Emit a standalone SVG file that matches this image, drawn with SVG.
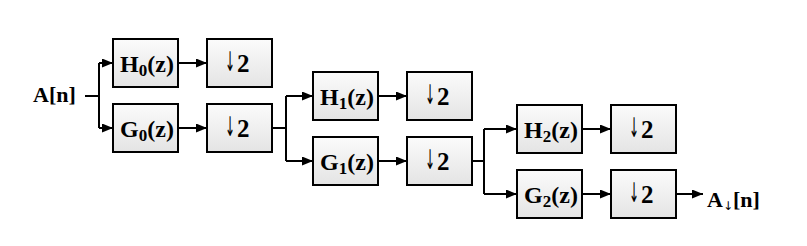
<svg xmlns="http://www.w3.org/2000/svg" width="807" height="246" viewBox="0 0 807 246">
<defs>
<linearGradient id="bg" x1="0" y1="0" x2="0" y2="1">
<stop offset="0" stop-color="#fbfbfb"/>
<stop offset="1" stop-color="#e4e4e4"/>
</linearGradient>
<marker id="ah" markerUnits="userSpaceOnUse" markerWidth="11" markerHeight="9" refX="11" refY="4.5" orient="auto">
<path d="M0,0 L11,4.5 L0,9 z" fill="#000"/>
</marker>
<style>
.box{fill:url(#bg);stroke:#000;stroke-width:2}
.t{font-family:"Liberation Serif","Times New Roman",serif;font-weight:bold;font-size:24px;fill:#000;text-anchor:middle}
.two{font-family:"Liberation Serif","Times New Roman",serif;font-weight:bold;font-size:25px;fill:#000}
.arr{font-family:"DejaVu Sans",sans-serif;font-weight:normal;font-size:27px;fill:#000}
.lbl{font-family:"Liberation Serif","Times New Roman",serif;font-weight:bold;font-size:22px;fill:#000}
.sub{font-size:17px}
.sarr{font-family:"DejaVu Sans",sans-serif;font-weight:normal;font-size:12px}
.c{fill:none;stroke:#000;stroke-width:2}
.a{marker-end:url(#ah)}
</style>
</defs>
<rect width="807" height="246" fill="#fff"/>
<g id="connectors">
<path class="c" d="M85,96 H99 M99,63 V128 M272,128 H286 M286,96 V161 M472,161 H484 M484,129 V194"/>
<path class="c a" d="M99,63 H113"/>
<path class="c a" d="M99,128 H113"/>
<path class="c a" d="M178,63 H207"/>
<path class="c a" d="M178,128 H207"/>
<path class="c a" d="M286,96 H313"/>
<path class="c a" d="M286,161 H313"/>
<path class="c a" d="M378,96 H407"/>
<path class="c a" d="M378,161 H407"/>
<path class="c a" d="M484,129 H517"/>
<path class="c a" d="M484,194 H517"/>
<path class="c a" d="M582,129 H611"/>
<path class="c a" d="M582,194 H611"/>
<path class="c a" d="M676,194 H703"/>
</g>
<g id="input"><text class="lbl" x="33" y="102">A[n]</text></g>
<g id="H0"><rect class="box" x="113" y="39" width="65" height="48"/><text class="t" x="147" y="72">H<tspan class="sub" dy="4">0</tspan><tspan dy="-4">(z)</tspan></text></g>
<g id="D0h"><rect class="box" x="207" y="39" width="65" height="48"/><text class="arr" transform="translate(225,71) scale(0.45,1)">↓</text><text class="two" x="237" y="72">2</text></g>
<g id="G0"><rect class="box" x="113" y="104" width="65" height="48"/><text class="t" x="147" y="137">G<tspan class="sub" dy="4">0</tspan><tspan dy="-4">(z)</tspan></text></g>
<g id="D0g"><rect class="box" x="207" y="104" width="65" height="48"/><text class="arr" transform="translate(225,136) scale(0.45,1)">↓</text><text class="two" x="237" y="137">2</text></g>
<g id="H1"><rect class="box" x="313" y="72" width="65" height="48"/><text class="t" x="347" y="105">H<tspan class="sub" dy="4">1</tspan><tspan dy="-4">(z)</tspan></text></g>
<g id="D1h"><rect class="box" x="407" y="72" width="65" height="48"/><text class="arr" transform="translate(425,104) scale(0.45,1)">↓</text><text class="two" x="437" y="105">2</text></g>
<g id="G1"><rect class="box" x="313" y="137" width="65" height="48"/><text class="t" x="347" y="170">G<tspan class="sub" dy="4">1</tspan><tspan dy="-4">(z)</tspan></text></g>
<g id="D1g"><rect class="box" x="407" y="137" width="65" height="48"/><text class="arr" transform="translate(425,169) scale(0.45,1)">↓</text><text class="two" x="437" y="170">2</text></g>
<g id="H2"><rect class="box" x="517" y="105" width="65" height="48"/><text class="t" x="551" y="138">H<tspan class="sub" dy="4">2</tspan><tspan dy="-4">(z)</tspan></text></g>
<g id="D2h"><rect class="box" x="611" y="105" width="65" height="48"/><text class="arr" transform="translate(629,137) scale(0.45,1)">↓</text><text class="two" x="641" y="138">2</text></g>
<g id="G2"><rect class="box" x="517" y="170" width="65" height="48"/><text class="t" x="551" y="203">G<tspan class="sub" dy="4">2</tspan><tspan dy="-4">(z)</tspan></text></g>
<g id="D2g"><rect class="box" x="611" y="170" width="65" height="48"/><text class="arr" transform="translate(629,202) scale(0.45,1)">↓</text><text class="two" x="641" y="203">2</text></g>
<g id="output"><text class="lbl" x="707" y="207">A<tspan class="sarr" dy="3">↓</tspan><tspan dy="-3">[n]</tspan></text></g>
</svg>
